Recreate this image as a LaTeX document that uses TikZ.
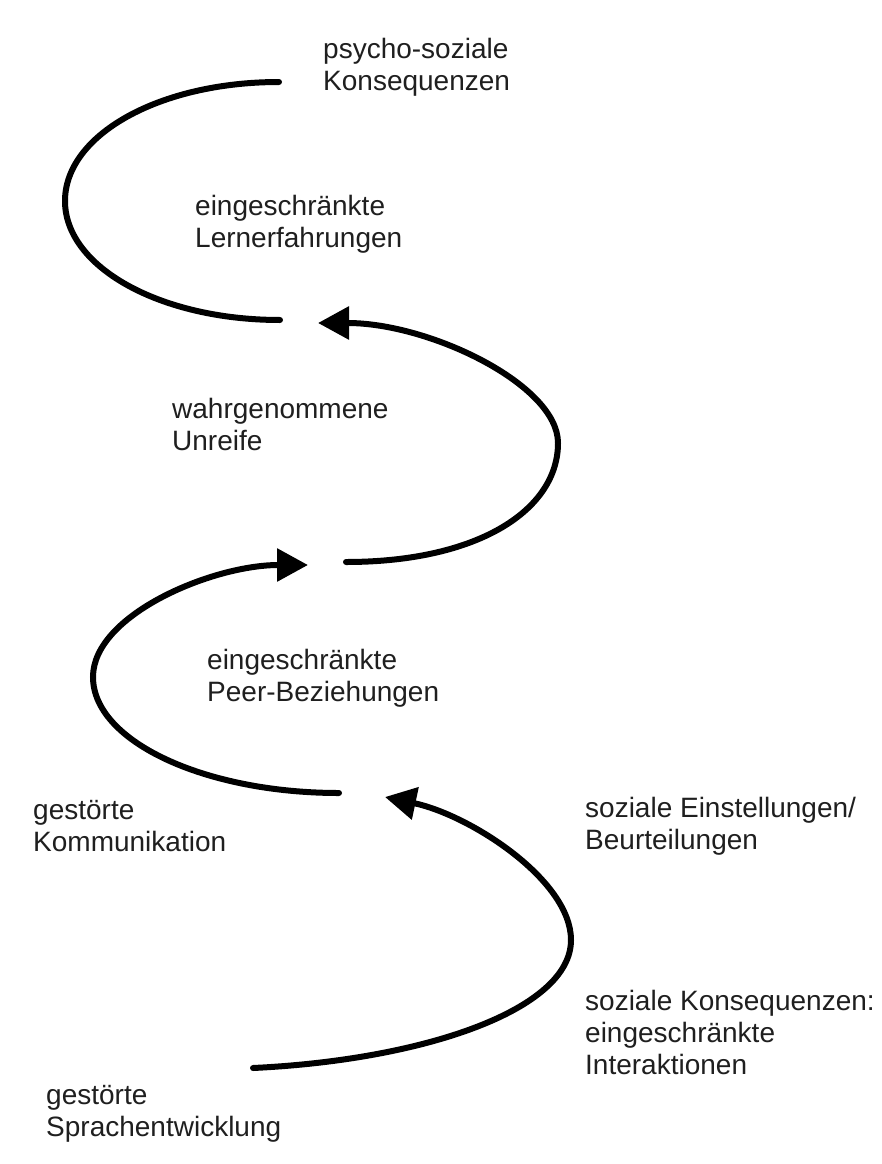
\documentclass[tikz,border=0pt]{standalone}
\usepackage{fontspec}
\setmainfont{Liberation Sans}
\usetikzlibrary{arrows.meta}
\begin{document}
\begin{tikzpicture}[x=1pt,y=1pt,
  lbl/.style={anchor=north west, inner sep=0pt, align=left, font=\fontsize{28}{32}\selectfont, text=black!88},
  spiral/.style={line width=6pt, line cap=round},
  tip/.style={-{Triangle[length=31pt,width=32pt]}}]
\useasboundingbox[fill=white] (0,0) rectangle (882,-1164);

% labels
\node[lbl] (psy) at (323,-38) {psycho-soziale\\Konsequenzen};
\node[lbl] (lern) at (195,-195) {eingeschränkte\\Lernerfahrungen};
\node[lbl] (unreife) at (172,-398) {wahrgenommene\\Unreife};
\node[lbl] (peer) at (207,-649) {eingeschränkte\\Peer-Beziehungen};
\node[lbl] (komm) at (33,-800) {gestörte\\Kommunikation};
\node[lbl] (einst) at (585,-797) {soziale Einstellungen/\\Beurteilungen};
\node[lbl] (konseq) at (585,-990) {soziale Konsequenzen:\\eingeschränkte\\Interaktionen};
\node[lbl] (sprach) at (46,-1085) {gestörte\\Sprachentwicklung};

% spiral points
\coordinate (d0) at (253,-1068);
\coordinate (d1) at (571,-940);
\coordinate (d2) at (385,-797);
\coordinate (c0) at (339,-793);
\coordinate (c1) at (93,-677);
\coordinate (c2) at (308,-565);
\coordinate (b0) at (346,-562);
\coordinate (b1) at (558,-443);
\coordinate (b2) at (318,-323);
\coordinate (a0) at (280,-320);
\coordinate (a1) at (65,-201);
\coordinate (a2) at (279,-82);

% spiral arcs
\draw[spiral,tip] (d0) .. controls +(170,8) and +(0,-70) .. (d1)
                       .. controls +(0,60) and +(85,-18) .. (d2);
\draw[spiral,tip] (c0) .. controls +(-135,0) and +(0,-64) .. (c1)
                       .. controls +(0,62) and +(-96,0) .. (c2);
\draw[spiral,tip] (b0) .. controls +(134,0) and +(0,-66) .. (b1)
                       .. controls +(0,58) and +(112,0) .. (b2);
\draw[spiral] (a0) .. controls +(-120,0) and +(0,-66) .. (a1)
                   .. controls +(0,66) and +(-120,0) .. (a2);
\end{tikzpicture}
\end{document}
